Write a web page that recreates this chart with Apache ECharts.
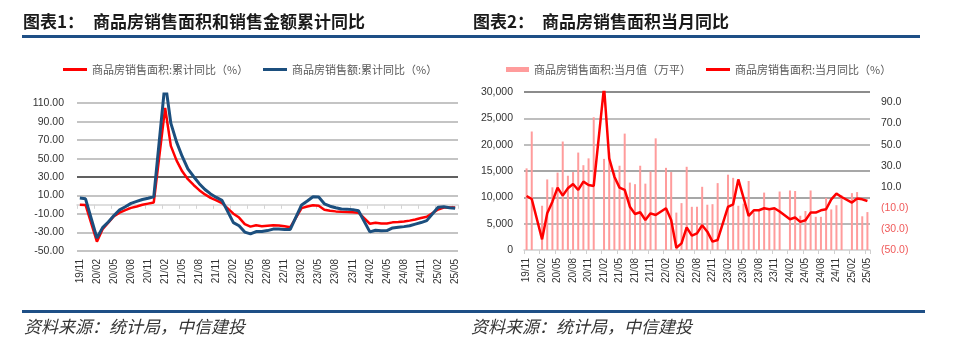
<!DOCTYPE html>
<html><head><meta charset="utf-8">
<script src="https://cdn.jsdelivr.net/npm/echarts@6/dist/echarts.min.js"></script>
<style>html,body{margin:0;padding:0;background:#fff}#c{width:960px;height:343px}</style>
</head><body><div id="c"></div>
<script>
const categories = ['19/11','19/12',
'20/01','20/02','20/03','20/04','20/05','20/06','20/07','20/08','20/09','20/10','20/11','20/12',
'21/01','21/02','21/03','21/04','21/05','21/06','21/07','21/08','21/09','21/10','21/11','21/12',
'22/01','22/02','22/03','22/04','22/05','22/06','22/07','22/08','22/09','22/10','22/11','22/12',
'23/01','23/02','23/03','23/04','23/05','23/06','23/07','23/08','23/09','23/10','23/11','23/12',
'24/01','24/02','24/03','24/04','24/05','24/06','24/07','24/08','24/09','24/10','24/11','24/12',
'25/01','25/02','25/03','25/04','25/05'];

// Chart 1: cumulative YoY (%)
const areaCumYoY = [0.2,-0.1,
null,-39.9,-26.3,-19.3,-12.3,-8.4,-5.8,-3.3,-1.8,0.0,1.3,2.6,
null,104.9,63.8,48.1,36.3,27.7,21.5,15.9,11.3,7.5,4.8,1.9,
null,-9.6,-13.8,-20.9,-23.6,-22.2,-23.1,-22.6,-22.2,-22.3,-23.3,-24.3,
null,-3.6,-1.8,-0.4,-0.9,-5.3,-6.5,-7.1,-7.5,-7.8,-8.0,-8.5,
null,-20.5,-19.4,-20.2,-20.3,-19.0,-18.6,-18.0,-17.1,-15.8,-14.3,-12.9,
null,-5.1,-3.0,-2.8,-2.9];
const amountCumYoY = [7.3,6.5,
null,-35.9,-24.7,-18.6,-11.6,-5.4,-2.1,1.6,3.7,5.8,7.2,8.7,
null,133.4,88.5,68.2,52.4,38.9,30.7,22.9,16.6,11.8,8.0,4.8,
null,-19.3,-22.7,-29.5,-31.5,-28.9,-28.8,-27.9,-26.3,-26.1,-26.6,-26.7,
null,-0.1,4.1,8.8,8.4,1.1,-1.5,-3.2,-4.6,-4.9,-5.2,-6.5,
null,-29.3,-27.6,-28.1,-27.9,-25.0,-24.3,-23.6,-22.7,-20.9,-19.2,-17.1,
null,-2.6,-2.1,-3.2,-3.8];

// Chart 2: monthly value (万平) and monthly YoY (%)
const areaMonthly = [15500,22500,
null,8400,13400,11900,14700,20600,14100,14800,18500,16100,17400,25200,
null,17300,18600,14700,16000,22100,12800,12500,16000,12600,14900,21200,
null,15600,14800,7100,8900,15800,8200,8200,12000,8600,8700,12700,
null,14300,13700,8400,8800,13100,7100,7400,10900,7800,7900,11100,
null,11300,11200,6500,7400,11300,6300,6300,9900,7700,8500,10400,
null,10800,11000,6400,7200];
const areaMonthlyYoY = [1.3,-1.6,
null,-39.9,-15.2,-4.1,9.2,1.6,8.6,12.7,7.0,14.9,11.7,10.8,
null,104.9,37.0,19.6,9.2,7.0,-8.9,-15.8,-14.2,-21.5,-15.2,-16.8,
null,-10.4,-21.5,-47.8,-43.7,-28.5,-36.4,-34.2,-26.5,-32.6,-42.1,-40.5,
null,-9.1,-6.6,17.0,-0.3,-17.6,-12.3,-12.3,-10.4,-11.3,-10.4,-13.5,
null,-20.8,-19.2,-23.3,-21.7,-14.5,-14.5,-12.3,-11.3,-1.9,3.5,0.3,
null,-5.0,-1.2,-1.9,-3.5];

const names = {
  a1: '商品房销售面积:累计同比（%）',
  a2: '商品房销售额:累计同比（%）',
  b1: '商品房销售面积:当月值（万平）',
  b2: '商品房销售面积:当月同比（%）'
};

const NUM = "'Liberation Sans', Arial, 'Noto Sans CJK SC', sans-serif";
const CJK = "'Noto Sans CJK SC', sans-serif";
const chart = echarts.init(document.getElementById('c'), null, {renderer: 'canvas'});

const legendBase = {padding: 0, itemGap: 0, icon: 'rect', selectedMode: false,
  textStyle: {fontSize: 11, color: '#595959', fontFamily: CJK}};

chart.setOption({
  animation: false,
  backgroundColor: '#fff',
  grid: [
    {left: 77, right: 502, top: 94, bottom: 92, outerBoundsMode: 'none'},
    {left: 524, right: 90, top: 92, bottom: 93, outerBoundsMode: 'none'}
  ],
  legend: [
    Object.assign({}, legendBase, {data: [names.a1], left: 63, top: 64, itemWidth: 24, itemHeight: 3}),
    Object.assign({}, legendBase, {data: [names.a2], left: 263, top: 64, itemWidth: 24, itemHeight: 3}),
    Object.assign({}, legendBase, {data: [names.b1], left: 506, top: 64, itemWidth: 23, itemHeight: 5}),
    Object.assign({}, legendBase, {data: [names.b2], left: 706, top: 64, itemWidth: 24, itemHeight: 3})
  ],
  xAxis: [
    {gridIndex: 0, type: 'category', data: categories, boundaryGap: true,
     axisLine: {show: false, onZero: false}, axisTick: {show: false},
     axisLabel: {interval: 2, rotate: 90, fontSize: 10, color: '#333', margin: 8, fontFamily: NUM}},
    {gridIndex: 0, type: 'category', data: categories, boundaryGap: true, position: 'bottom',
     axisLine: {show: true, onZero: true, lineStyle: {color: '#d4d4d4', width: 1.5}},
     axisTick: {show: true, interval: 2, length: 4, lineStyle: {color: '#d4d4d4'}},
     axisLabel: {show: false}, splitLine: {show: false}},
    {gridIndex: 1, type: 'category', data: categories, boundaryGap: true,
     axisLine: {show: true, onZero: false, lineStyle: {color: '#cfcfcf', width: 1.5}},
     axisTick: {show: true, interval: 2, length: 4, lineStyle: {color: '#cfcfcf'}},
     axisLabel: {interval: 2, rotate: 90, fontSize: 10, color: '#333', margin: 8, fontFamily: NUM}}
  ],
  yAxis: [
    {gridIndex: 0, type: 'value', min: -50, max: 120, interval: 20,
     axisLine: {show: false}, axisTick: {show: false},
     axisLabel: {fontSize: 10.5, color: '#333', margin: 13, fontFamily: NUM, showMaxLabel: false,
       formatter: v => v.toFixed(2)},
     splitLine: {show: true, showMaxLine: false,
       lineStyle: {width: 1.5, color: ['#b0b0b0','#b0b0b0','#b0b0b0','#b0b0b0','#2b2b2b','#b0b0b0','#b0b0b0','#b0b0b0','#b0b0b0','#b0b0b0']}}},
    {gridIndex: 1, type: 'value', position: 'left', min: 0, max: 30000, interval: 5000,
     axisLine: {show: false}, axisTick: {show: false},
     axisLabel: {fontSize: 10.5, color: '#333', margin: 11, fontFamily: NUM,
       formatter: v => v.toLocaleString('en-US')},
     splitLine: {show: true, showMinLine: false,
       lineStyle: {width: 1.5, color: ['#a0a0a0','#8a8a8a','#8a8a8a','#a8a8a8','#a8a8a8','#666','#b8b8b8']}}},
    {gridIndex: 1, type: 'value', position: 'right', min: -50, max: 100, interval: 20,
     axisLine: {show: false}, axisTick: {show: false}, splitLine: {show: false},
     axisLabel: {fontSize: 10.5, margin: 11, fontFamily: NUM, showMaxLabel: false,
       color: v => (Number(v) < 0 ? '#f05a5a' : '#333'),
       formatter: v => (v < 0 ? '(' + Math.abs(v).toFixed(1) + ')' : v.toFixed(1))}}
  ],
  series: [
    {name: names.a1, type: 'line', xAxisIndex: 0, yAxisIndex: 0, data: areaCumYoY,
     connectNulls: true, symbol: 'none', color: '#ff0000', lineStyle: {width: 2.5, color: '#ff0000'}},
    {name: names.a2, type: 'line', xAxisIndex: 0, yAxisIndex: 0, data: amountCumYoY,
     connectNulls: true, symbol: 'none', color: '#1c4f7e', lineStyle: {width: 3, color: '#1c4f7e'}},
    {name: names.b1, type: 'bar', xAxisIndex: 2, yAxisIndex: 1, data: areaMonthly,
     barWidth: 2, color: '#ff9c9c', itemStyle: {color: '#ff9c9c'}},
    {name: names.b2, type: 'line', xAxisIndex: 2, yAxisIndex: 2, data: areaMonthlyYoY,
     connectNulls: true, symbol: 'none', color: '#ff0000', lineStyle: {width: 2.5, color: '#ff0000'}}
  ],
  graphic: [
    {type: 'text', x: 23, y: 22, style: {text: '图表1：', font: "bold 17px 'Noto Sans CJK SC'", fill: '#1a1a1a', verticalAlign: 'middle'}},
    {type: 'text', x: 93, y: 22, style: {text: '商品房销售面积和销售金额累计同比', font: "bold 17px 'Noto Sans CJK SC'", fill: '#1a1a1a', verticalAlign: 'middle'}},
    {type: 'text', x: 473, y: 22, style: {text: '图表2：', font: "bold 17px 'Noto Sans CJK SC'", fill: '#1a1a1a', verticalAlign: 'middle'}},
    {type: 'text', x: 542, y: 22, style: {text: '商品房销售面积当月同比', font: "bold 17px 'Noto Sans CJK SC'", fill: '#1a1a1a', verticalAlign: 'middle'}},
    {type: 'rect', shape: {x: 22, y: 35, width: 898, height: 3}, style: {fill: '#1e4f86'}},
    {type: 'rect', shape: {x: 22, y: 310, width: 903, height: 3}, style: {fill: '#1e4f86'}},
    {type: 'text', x: 24, y: 327, style: {text: '资料来源：统计局，中信建投', font: "italic 17px 'Noto Sans CJK SC'", fill: '#333', verticalAlign: 'middle'}},
    {type: 'text', x: 471, y: 327, style: {text: '资料来源：统计局，中信建投', font: "italic 17px 'Noto Sans CJK SC'", fill: '#333', verticalAlign: 'middle'}}
  ]
});
</script>
</body></html>
